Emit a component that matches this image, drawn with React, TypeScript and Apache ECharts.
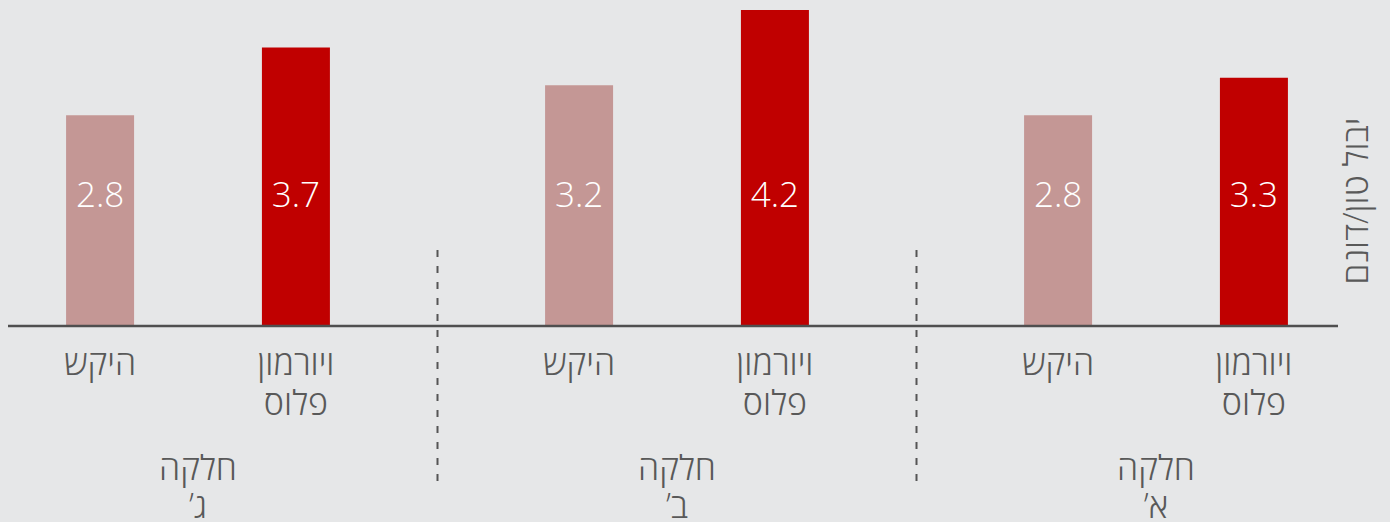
import React, { useEffect, useRef } from "react";
import * as echarts from "echarts";

const groups = ["חלקה\nג’\u200F", "חלקה\nב’\u200F", "חלקה\nא’\u200F"];
const seriesNames = ["היקש", "ויורמון\nפלוס"];
const controlValues = [2.8, 3.2, 2.8];
const treatmentValues = [3.7, 4.2, 3.3];
const yTitle = "יבול טון/דונם";

const BG = "#e6e7e8";
const TEXT = "#595959";
const PINK = "#c49795";
const RED = "#c00000";
const FONT = "'Open Sans', 'DejaVu Sans', sans-serif";
const WEIGHT = 300;

export default function App() {
  const ref = useRef<HTMLDivElement>(null);
  useEffect(() => {
    if (!ref.current) return;
    const chart = echarts.init(ref.current, null, { renderer: "svg" });
    const valueLabel = {
      show: true,
      position: "insideBottom",
      distance: 118,
      color: "#ffffff",
      fontSize: 35,
      fontWeight: WEIGHT,
      lineHeight: 30,
      fontFamily: FONT,
      formatter: (p: any) => Number(p.value).toFixed(1),
    };
    const nameLabel = (name: string) => ({
      show: true,
      position: "bottom",
      distance: 16,
      color: TEXT,
      fontSize: 34,
      fontWeight: WEIGHT,
      lineHeight: 40,
      fontFamily: FONT,
      formatter: () => name,
    });
    const barCommon = { barWidth: 68, barGap: "188%" };
    chart.setOption({
      animation: false,
      backgroundColor: BG,
      grid: { left: -41.5, width: 1437, top: 10, bottom: 196, outerBoundsMode: "none", containLabel: false },
      xAxis: [
        {
          type: "category",
          data: groups,
          axisLine: { show: false },
          axisTick: { show: false },
          axisLabel: {
            margin: 122,
            color: TEXT,
            fontSize: 34,
            fontWeight: WEIGHT,
            lineHeight: 38,
            fontFamily: FONT,
          },
        },
        {
          type: "category",
          data: groups,
          show: false,
        },
      ],
      yAxis: {
        type: "value",
        min: 0,
        max: 4.2,
        show: false,
        splitLine: { show: false },
      },
      series: [
        {
          name: seriesNames[0],
          type: "bar",
          data: controlValues,
          itemStyle: { color: PINK },
          label: valueLabel,
          ...barCommon,
        },
        {
          name: seriesNames[1],
          type: "bar",
          data: treatmentValues,
          itemStyle: { color: RED },
          label: valueLabel,
          ...barCommon,
        },
        {
          name: seriesNames[0] + "_lbl",
          type: "bar",
          xAxisIndex: 1,
          data: controlValues,
          itemStyle: { color: "rgba(0,0,0,0)" },
          label: nameLabel(seriesNames[0]),
          silent: true,
          ...barCommon,
        },
        {
          name: seriesNames[1] + "_lbl",
          type: "bar",
          xAxisIndex: 1,
          data: treatmentValues,
          itemStyle: { color: "rgba(0,0,0,0)" },
          label: nameLabel(seriesNames[1]),
          silent: true,
          ...barCommon,
        },
      ],
      graphic: [
        {
          type: "line",
          shape: { x1: 8, y1: 326, x2: 1338, y2: 326 },
          style: { stroke: "#4f4f4f", lineWidth: 2.5 },
          z: 10,
        },
        {
          type: "line",
          shape: { x1: 437.5, y1: 250, x2: 437.5, y2: 488 },
          style: { stroke: "#555555", lineWidth: 2, lineDash: [7, 9] },
          z: 10,
        },
        {
          type: "line",
          shape: { x1: 916.5, y1: 250, x2: 916.5, y2: 488 },
          style: { stroke: "#555555", lineWidth: 2, lineDash: [7, 9] },
          z: 10,
        },
        {
          type: "text",
          x: 1355,
          y: 201,
          rotation: Math.PI / 2,
          style: {
            text: yTitle,
            fill: TEXT,
            fontSize: 34,
            fontWeight: WEIGHT,
            fontFamily: FONT,
            align: "center",
            verticalAlign: "middle",
          },
          z: 10,
        },
      ],
    });
    return () => chart.dispose();
  }, []);
  return (
    <div
      ref={ref}
      style={{ position: "absolute", left: 0, top: 0, width: 1390, height: 522 }}
    />
  );
}
